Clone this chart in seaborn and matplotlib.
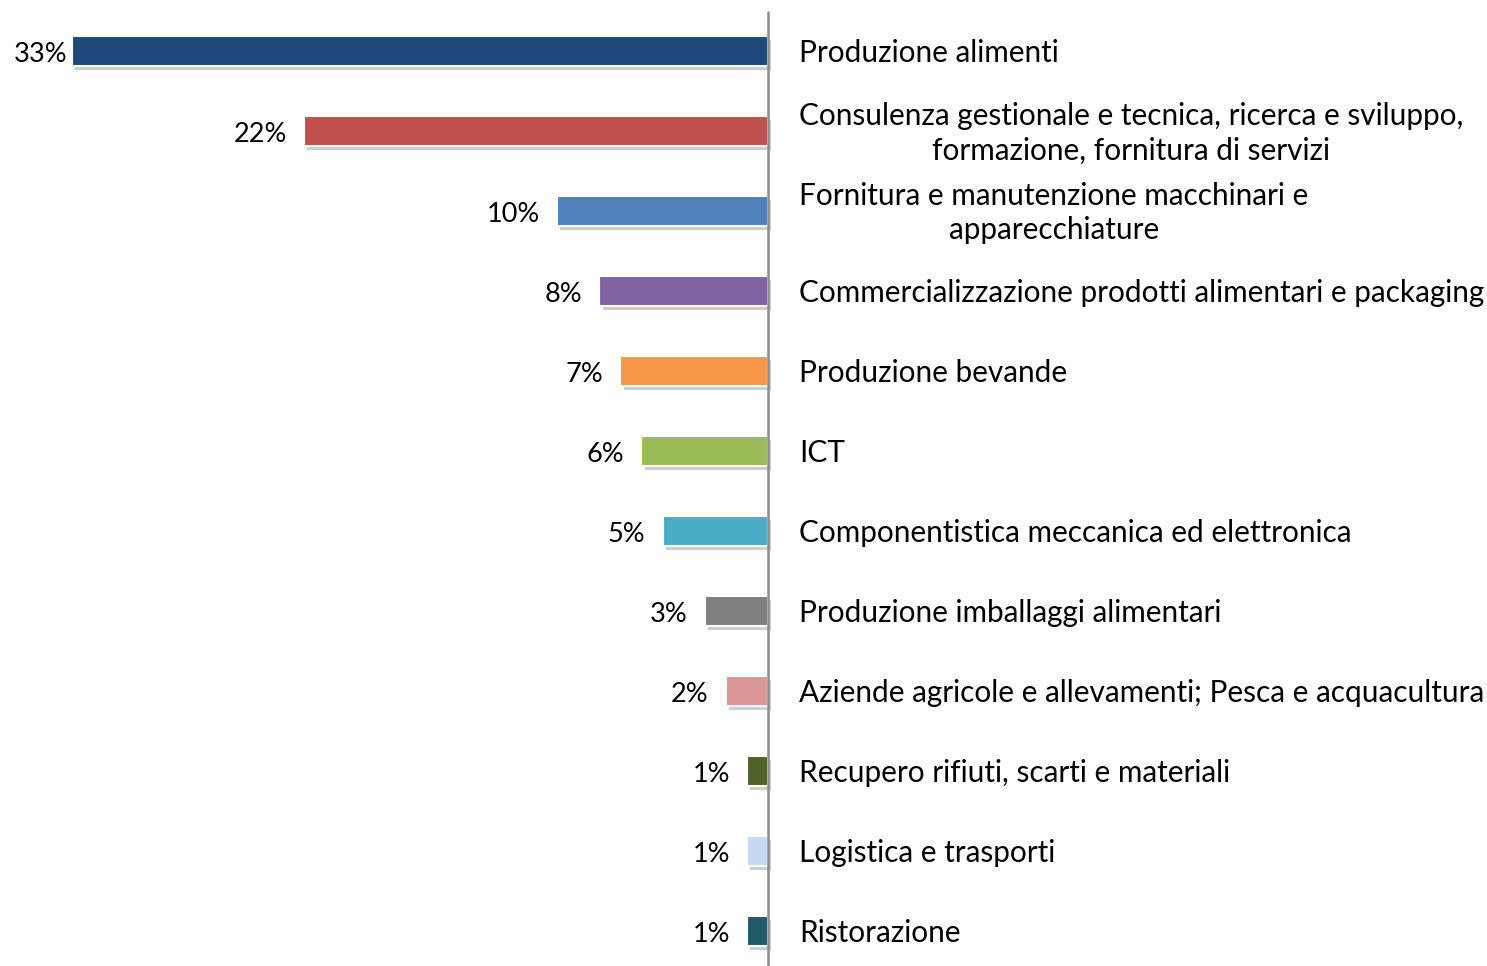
import matplotlib
matplotlib.use("Agg")
import matplotlib.pyplot as plt
import matplotlib.patheffects as pe
import matplotlib.transforms as mtransforms
import seaborn as sns
import pandas as pd

categories = [
    "Produzione alimenti",
    "Consulenza gestionale e tecnica, ricerca e sviluppo,\nformazione, fornitura di servizi",
    "Fornitura e manutenzione macchinari e\napparecchiature",
    "Commercializzazione prodotti alimentari e packaging",
    "Produzione bevande",
    "ICT",
    "Componentistica meccanica ed elettronica",
    "Produzione imballaggi alimentari",
    "Aziende agricole e allevamenti; Pesca e acquacultura",
    "Recupero rifiuti, scarti e materiali",
    "Logistica e trasporti",
    "Ristorazione",
]
values = [33, 22, 10, 8, 7, 6, 5, 3, 2, 1, 1, 1]
value_labels = ["33%", "22%", "10%", "8%", "7%", "6%", "5%", "3%", "2%", "1%", "1%", "1%"]
colors = ["#1F497D", "#C0504D", "#4F81BD", "#8064A2", "#F79646", "#9BBB59",
          "#4BACC6", "#7F7F7F", "#D99694", "#4F6228", "#C6D9F1", "#215968"]

sns.set_theme(style="white")
plt.rcParams["font.family"] = ["Lato", "DejaVu Sans"]

df = pd.DataFrame({"cat": categories, "val": values})

W, H, DPI = 1487, 966, 100
fig = plt.figure(figsize=(W / DPI, H / DPI), dpi=DPI)
ax = fig.add_axes([0, 0, 1, 1])

sns.barplot(data=df, x="val", y="cat", hue="cat", palette=colors, legend=False,
            orient="h", width=0.375, saturation=1, ax=ax,
            edgecolor="white", linewidth=1.5)

px_per_unit = 21.1
x0 = 768
ax.set_xlim(x0 / px_per_unit, -(W - x0) / px_per_unit)
ax.set_ylim((H - 51) / 80, -51 / 80)
ax.axis("off")

for p in ax.patches:
    p.set_path_effects([pe.SimplePatchShadow(offset=(2.5, -3), shadow_rgbFace="#707070", alpha=0.35),
                        pe.Normal()])

ax.axvline(0, ymin=0, ymax=1 - 12 / H, color="#8C8C8C", lw=1.8, zorder=5)

lab_tr = mtransforms.offset_copy(ax.transData, fig=fig, x=-17, y=-3, units="dots")
cat_tr = mtransforms.offset_copy(ax.transData, fig=fig, x=31, y=-2, units="dots")
value_texts = []
for i, (v, vl, c) in enumerate(zip(values, value_labels, categories)):
    t = ax.text(v, i, vl, transform=lab_tr, ha="right", va="center", fontsize=19.5, color="black")
    value_texts.append(t)
    ax.text(0, i, c, transform=cat_tr, ha="left", va="center", fontsize=21.4,
            color="black", multialignment="center", linespacing=1.3)

# keep value labels inside the chart area (like Excel does)
fig.canvas.draw()
renderer = fig.canvas.get_renderer()
for t, v, i in zip(value_texts, values, range(len(values))):
    bb = t.get_window_extent(renderer)
    if bb.x0 < 14:
        shift = 14 - bb.x0
        t.set_transform(mtransforms.offset_copy(ax.transData, fig=fig, x=-17 + shift, y=-3, units="dots"))

fig.savefig("out.png", dpi=DPI)
